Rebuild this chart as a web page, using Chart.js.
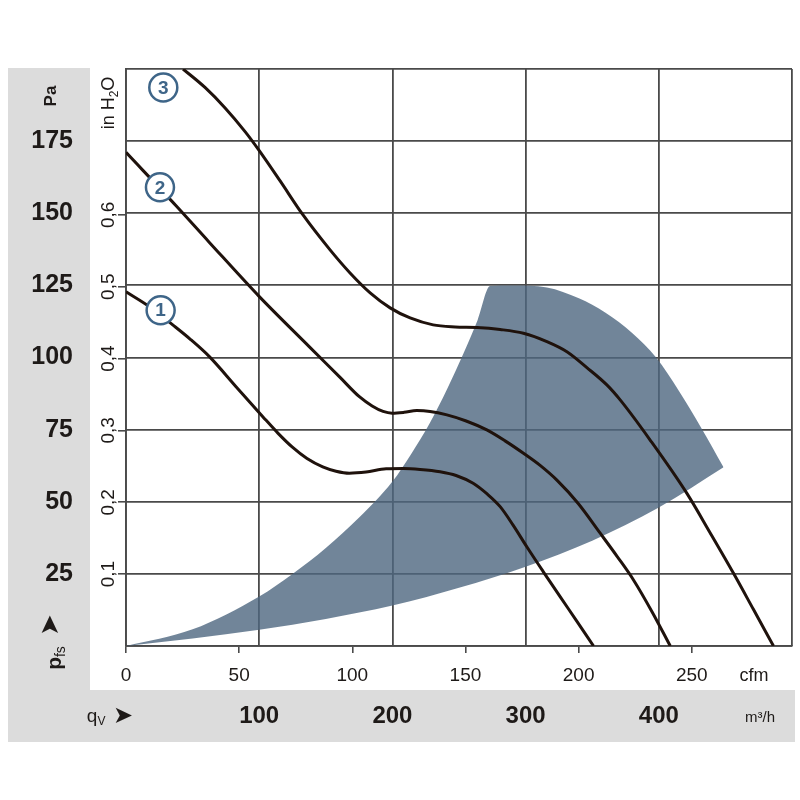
<!DOCTYPE html>
<html>
<head>
<meta charset="utf-8">
<title>Fan curve</title>
<script src="https://cdn.jsdelivr.net/npm/chart.js@4.4.1/dist/chart.umd.min.js"></script>
<style>
  body { margin: 0; background: #fff; }
  #wrap { position: relative; width: 800px; height: 800px; }
  .panel { position: absolute; background: #dcdcdc; }
  #panelLeft { left: 8px; top: 68px; width: 82px; height: 674px; }
  #panelBottom { left: 8px; top: 690px; width: 787px; height: 52px; }
  canvas { position: absolute; left: 0; top: 0; }
</style>
</head>
<body>
<div id="wrap">
  <div class="panel" id="panelLeft"></div>
  <div class="panel" id="panelBottom"></div>
  <canvas id="fanChart" width="800" height="800"></canvas>
</div>
<script>
const SANS = "'Liberation Sans', Arial, sans-serif";
const TEXT = '#1e1a18';
const GRID = '#4a4a4a';
const PA_PER_INH2O = 249.089;
const M3H_PER_CFM = 1.699;

// Axis ticks
const paTicks = [0, 25, 50, 75, 100, 125, 150, 175, 200];
const inH2OTicks = [0.1, 0.2, 0.3, 0.4, 0.5, 0.6];
const m3hTicks = [0, 100, 200, 300, 400, 500];
const cfmTicks = [0, 50, 100, 150, 200, 250];

// Fan curves, flow in m³/h, static pressure in Pa
const curve1Q = [0, 18, 35.1, 48.1, 62.6, 82.6, 102.7, 114.2, 124.7, 135.9, 147.7, 157.7, 167.7, 180.2, 195.3, 208, 220.8,
                 235.8, 247.8, 260.6, 271.1, 280.9, 290.6, 300.9, 313.2, 325.9, 337.9, 351];
const curve1P = [122.8, 117.5, 111.3, 106.4, 100.3, 89.9, 79.5, 73.7, 69.0, 65.0, 62.1, 60.6, 59.9, 60.3, 61.4, 61.5, 61.2,
                 60.4, 59.1, 56.4, 52.7, 48.3, 41.9, 34.4, 25.8, 17.1, 9.0, 0];

const curve2Q = [0, 37.6, 62.6, 100.1, 137.7, 160.7, 175.2, 184.8, 193, 199.8, 208.8, 218.3, 228.3, 240.9, 255.4, 270.9,
                 284.6, 298.4, 310.9, 323.5, 339.5, 356, 368.8, 381, 395, 408.6];
const curve2P = [171.1, 152.6, 139.9, 121.1, 103.7, 93.1, 86.4, 83.2, 81.3, 80.7, 81.0, 81.6, 81.3, 80.1, 78.0, 74.9,
                 71.1, 66.8, 62.6, 57.5, 49.4, 39.1, 31.0, 22.9, 11.8, 0];

const curve3Q = [42.8, 59.3, 74.4, 89.4, 99.9, 115.7, 132.9, 153.2, 168.2, 183.3, 198.3, 213.3, 230.6, 247.1, 263.4,
                 280.9, 298.4, 316, 331, 346, 361, 371, 393.5, 421.1, 438.6, 456.1, 470.9, 486.1];
const curve3P = [200, 193.6, 186.5, 178.3, 171.8, 161.2, 149.4, 137.3, 129.3, 122.4, 117.2, 113.7, 111.3, 110.6, 110.4,
                 109.7, 108.4, 105.5, 102.0, 96.5, 90.5, 85.3, 71.4, 52.9, 39.2, 25.2, 12.8, 0];

// Operating range (shaded), upper and lower edge
const rangeTopQ = [0, 50, 100, 125, 150, 175, 200, 214, 228, 241, 253, 264, 273.4, 290, 316, 340, 360, 380, 398, 415, 432, 448.6];
const rangeTopP = [0, 5.8, 17.2, 25.0, 34.0, 44.5, 57, 66.5, 77.2, 89, 101, 113, 124.8, 125, 124.3, 120.5, 115.5, 108.5, 100, 88.5, 75.5, 62];
const rangeLowQ = [0, 50, 100, 150, 200, 250, 300, 350, 400, 448.6];
const rangeLowP = [0, 2.6, 5.6, 9.4, 14.0, 20.2, 27.5, 36.5, 48, 62];

// Curve number markers
const markQ = [26, 25.5, 28];
const markP = [116.4, 159, 193.6];
const markText = ['1', '2', '3'];

const pts = (xs, ys) => xs.map((x, i) => ({ x: x, y: ys[i] }));

const curveStyle = {
    borderColor: '#1f120c',
    borderWidth: 3,
    pointRadius: 0,
    cubicInterpolationMode: 'monotone',
    fill: false,
    order: 1
};

function drawParts(ctx, parts, cx, cy, angle) {
    ctx.save();
    ctx.translate(cx, cy);
    ctx.rotate(angle);
    let w = 0;
    parts.forEach(p => { ctx.font = p.font; p.w = ctx.measureText(p.text).width; w += p.w; });
    let x = -w / 2;
    ctx.textBaseline = 'middle';
    ctx.textAlign = 'left';
    parts.forEach(p => { ctx.font = p.font; ctx.fillText(p.text, x, p.dy || 0); x += p.w; });
    ctx.restore();
}

const labelPlugin = {
    id: 'fanLabels',
    afterDraw(chart) {
        const { ctx, chartArea } = chart;
        const up = -Math.PI / 2;
        ctx.save();
        ctx.fillStyle = TEXT;

        // unit labels on the left
        drawParts(ctx, [{ text: 'Pa', font: 'bold 17px ' + SANS }], 51, chartArea.top + 27, up);
        drawParts(ctx, [
            { text: 'in H', font: '18px ' + SANS },
            { text: '2', font: '12px ' + SANS, dy: 6 },
            { text: 'O', font: '18px ' + SANS }
        ], chartArea.left - 17, chartArea.top + 34, up);

        // p_fs with arrow
        drawParts(ctx, [{ text: '➤', font: '26px DejaVu Sans' }], 51, chartArea.bottom - 21, up);
        drawParts(ctx, [
            { text: 'p', font: 'bold 21px ' + SANS },
            { text: 'fs', font: '14px ' + SANS, dy: 6 }
        ], 55, chartArea.bottom + 12, up);

        // q_V with arrow
        drawParts(ctx, [
            { text: 'q', font: '19px ' + SANS },
            { text: 'V', font: '12px ' + SANS, dy: 5 },
            { text: ' ➤', font: '24px DejaVu Sans' }
        ], chartArea.left - 16, chartArea.bottom + 71, 0);

        // axis units
        drawParts(ctx, [{ text: 'cfm', font: '18px ' + SANS }], chartArea.right - 38, chartArea.bottom + 30, 0);
        drawParts(ctx, [{ text: 'm³/h', font: '15px ' + SANS }], chartArea.right - 32, chartArea.bottom + 72, 0);

        // numbers in the curve markers
        const meta = chart.getDatasetMeta(0);
        ctx.fillStyle = '#3e6588';
        meta.data.forEach((pt, i) => {
            drawParts(ctx, [{ text: markText[i], font: 'bold 19px ' + SANS }], pt.x, pt.y + 1, 0);
        });
        ctx.restore();
    }
};

new Chart(document.getElementById('fanChart'), {
    type: 'line',
    data: {
        datasets: [
            {
                label: 'markers',
                data: pts(markQ, markP),
                showLine: false,
                pointRadius: 14,
                pointBackgroundColor: '#fff',
                pointBorderColor: '#3e6588',
                pointBorderWidth: 2.5,
                order: 0
            },
            Object.assign({ label: 'Curve 1', data: pts(curve1Q, curve1P) }, curveStyle),
            Object.assign({ label: 'Curve 2', data: pts(curve2Q, curve2P) }, curveStyle),
            Object.assign({ label: 'Curve 3', data: pts(curve3Q, curve3P) }, curveStyle),
            {
                label: 'Range',
                data: pts(rangeTopQ, rangeTopP),
                borderColor: 'rgba(0,0,0,0)',
                borderWidth: 0,
                pointRadius: 0,
                cubicInterpolationMode: 'monotone',
                backgroundColor: 'rgba(78,103,128,0.8)',
                fill: '+1',
                order: 5
            },
            {
                label: 'Range low',
                data: pts(rangeLowQ, rangeLowP),
                borderColor: 'rgba(0,0,0,0)',
                borderWidth: 0,
                pointRadius: 0,
                cubicInterpolationMode: 'monotone',
                fill: false,
                order: 6
            }
        ]
    },
    options: {
        responsive: false,
        devicePixelRatio: 1,
        animation: false,
        layout: { padding: { top: 69, right: 8, bottom: 58, left: 0 }, autoPadding: false },
        plugins: { legend: { display: false }, tooltip: { enabled: false } },
        scales: {
            x: {
                type: 'linear', position: 'bottom', weight: 2, min: 0, max: 500,
                afterBuildTicks: s => { s.ticks = m3hTicks.map(v => ({ value: v })); },
                ticks: {
                    autoSkip: false, padding: 12, color: TEXT,
                    font: { family: SANS, size: 24, weight: 'bold' },
                    callback: v => (v > 0 && v < 500) ? v : ''
                },
                grid: { color: GRID, lineWidth: 1.8, drawTicks: false },
                border: { display: false },
                afterFit: s => { s.height = 52; s.paddingLeft = 0; s.paddingRight = 0; }
            },
            xc: {
                type: 'linear', position: 'bottom', weight: 1, min: 0, max: 500 / M3H_PER_CFM,
                afterBuildTicks: s => { s.ticks = cfmTicks.map(v => ({ value: v })); },
                ticks: { autoSkip: false, padding: 11, color: TEXT, font: { family: SANS, size: 19 } },
                grid: { drawOnChartArea: false, tickLength: 7, color: GRID, lineWidth: 1.6 },
                border: { display: true, color: GRID, width: 1.8 },
                afterFit: s => { s.height = 44; s.paddingLeft = 0; s.paddingRight = 0; }
            },
            y: {
                position: 'left', weight: 2, min: 0, max: 200,
                afterBuildTicks: s => { s.ticks = paTicks.map(v => ({ value: v })); },
                ticks: {
                    autoSkip: false, padding: 17, color: TEXT,
                    font: { family: SANS, size: 25, weight: 'bold' },
                    callback: v => (v > 0 && v < 200) ? v : ''
                },
                grid: { color: GRID, lineWidth: 1.8, drawTicks: false },
                border: { display: false },
                afterFit: s => { s.width = 90; }
            },
            yin: {
                position: 'left', weight: 1, min: 0, max: 200 / PA_PER_INH2O,
                afterBuildTicks: s => { s.ticks = inH2OTicks.map(v => ({ value: v })); },
                ticks: {
                    autoSkip: false, minRotation: 90, maxRotation: 90, crossAlign: 'center',
                    padding: -4, color: TEXT, font: { family: SANS, size: 19 },
                    callback: v => v.toFixed(1).replace('.', ',')
                },
                grid: { drawOnChartArea: false, tickLength: 8, color: GRID, lineWidth: 1.6 },
                border: { display: true, color: GRID, width: 1.8 },
                afterFit: s => { s.width = 36; }
            }
        }
    },
    plugins: [labelPlugin]
});
</script>
</body>
</html>
